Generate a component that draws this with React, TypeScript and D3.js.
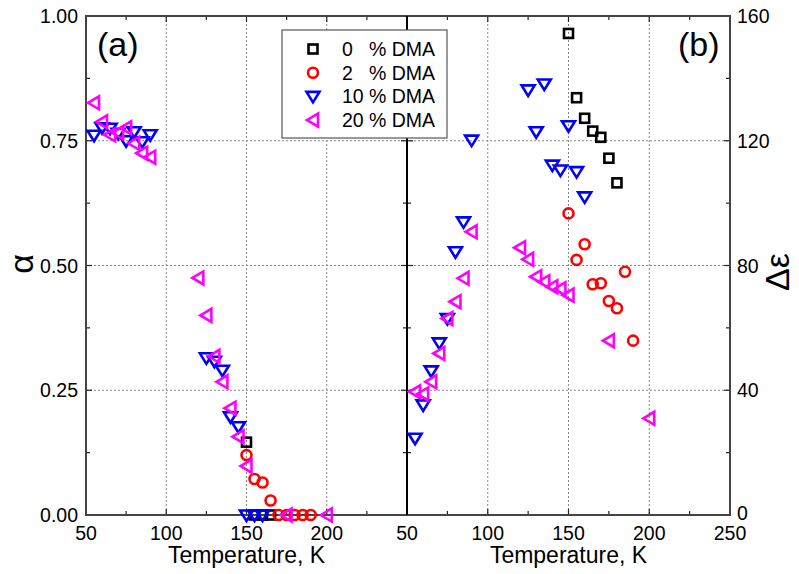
import React from "react";
import * as d3 from "d3";

// ---- data: panel (a), alpha vs T ----
const tA0 = [155, 160, 165, 150];
const a0 = [0, 0, 0, 0.146];
const tA2 = [150, 155, 160, 165, 170, 175, 180, 185, 190];
const a2 = [0.12, 0.072, 0.065, 0.029, 0, 0, 0, 0, 0];
const tA10 = [55, 60, 65, 70, 75, 80, 85, 90, 125, 130, 135, 140, 145, 150, 155, 160];
const a10 = [0.761, 0.776, 0.775, 0.765, 0.75, 0.768, 0.748, 0.762, 0.315, 0.308, 0.29, 0.197, 0.177, 0, 0, 0];
const tA20 = [55, 60, 65, 70, 75, 80, 85, 90, 120, 125, 130, 135, 140, 145, 150, 175, 200];
const a20 = [0.826, 0.788, 0.762, 0.766, 0.776, 0.745, 0.725, 0.717, 0.475, 0.4, 0.318, 0.267, 0.214, 0.157, 0.098, 0, 0];

// ---- data: panel (b), delta epsilon vs T ----
const tB0 = [150, 155, 160, 165, 170, 175, 180];
const e0 = [154.4, 133.8, 127.2, 123.1, 121.1, 114.4, 106.5];
const tB2 = [150, 155, 160, 165, 170, 175, 180, 185, 190];
const e2 = [96.7, 81.8, 86.8, 74, 74.3, 68.6, 66.3, 78, 55.9];
const tB10 = [55, 60, 65, 70, 75, 80, 85, 90, 125, 130, 135, 140, 145, 150, 155, 160];
const e10 = [24.6, 35.3, 46.2, 55.2, 63, 84.4, 94, 120.2, 136.3, 122.9, 138.2, 112.2, 110.6, 124.8, 110.1, 102];
const tB20 = [55, 60, 65, 70, 75, 80, 85, 90, 120, 125, 130, 135, 140, 145, 150, 175, 200];
const e20 = [39.5, 38.8, 42.7, 51.8, 63, 68.4, 75.9, 90.8, 85.7, 82, 76.4, 74.8, 73.2, 72.5, 70.5, 55.9, 31];

const xTicksA = [50, 100, 150, 200];
const xTicksB = [50, 100, 150, 200, 250];
const yTicksA = [0, 0.25, 0.5, 0.75, 1.0];
const yTicksB = [0, 40, 80, 120, 160];
const legendNums = ["0", "2", "10", "20"];
const legendKinds = ["sq", "ci", "dn", "lt"];

const COLORS: Record<string, string> = { sq: "#000000", ci: "#ff0000", dn: "#0000ff", lt: "#ff00ff" };

const L = 86, M = 407, R = 730, T = 16, B = 515;
const xA = d3.scaleLinear().domain([50, 250]).range([L, M]);
const xB = d3.scaleLinear().domain([50, 250]).range([M, R]);
const yA = d3.scaleLinear().domain([0, 1]).range([B, T]);
const yB = d3.scaleLinear().domain([0, 160]).range([B, T]);

const FONT = "Liberation Sans, Arial, sans-serif";

function Marker({ kind, x, y }: { kind: string; x: number; y: number }) {
  const c = COLORS[kind];
  const sw = 2.6;
  if (kind === "sq") return <rect x={x - 4.5} y={y - 4.5} width={9} height={9} fill="none" stroke={c} strokeWidth={sw} />;
  if (kind === "ci") return <circle cx={x} cy={y} r={5} fill="none" stroke={c} strokeWidth={sw} />;
  if (kind === "dn")
    return <path d={`M${x - 6.5},${y - 4.5}L${x + 6.5},${y - 4.5}L${x},${y + 6}Z`} fill="none" stroke={c} strokeWidth={sw} strokeLinejoin="miter" />;
  return <path d={`M${x - 6},${y}L${x + 5},${y - 6.5}L${x + 5},${y + 6.5}Z`} fill="none" stroke={c} strokeWidth={sw} strokeLinejoin="miter" />;
}

function series(kind: string, xs: number[], ys: number[], sx: any, sy: any) {
  return xs.map((t, i) => <Marker key={kind + i} kind={kind} x={sx(t)} y={sy(ys[i])} />);
}

export default function App() {
  const minorX = d3.range(50, 251, 25);
  const minorY = d3.range(0, 1.0001, 0.125);
  const grid = "#888";
  return (
    <svg width={799} height={574} style={{ position: "absolute", left: 0, top: 0, background: "#fff" }} fontFamily={FONT}>
      <rect x={0} y={0} width={799} height={574} fill="#fff" />
      {/* gridlines */}
      <g stroke={grid} strokeWidth={1} strokeDasharray="2,2">
        {[100, 150, 200].map((t) => <line key={"ga" + t} x1={xA(t)} x2={xA(t)} y1={T} y2={B} />)}
        {[100, 150, 200].map((t) => <line key={"gb" + t} x1={xB(t)} x2={xB(t)} y1={T} y2={B} />)}
        {[0.25, 0.5, 0.75].map((v) => <line key={"gy" + v} x1={L} x2={R} y1={yA(v)} y2={yA(v)} />)}
      </g>
      {/* ticks */}
      <g stroke="#222" strokeWidth={1.2}>
        {minorX.map((t, i) => {
          const len = i % 2 === 0 ? 6 : 4;
          return (
            <g key={"tx" + t}>
              <line x1={xA(t)} x2={xA(t)} y1={B} y2={B - len} />
              <line x1={xA(t)} x2={xA(t)} y1={T} y2={T + len} />
              <line x1={xB(t)} x2={xB(t)} y1={B} y2={B - len} />
              <line x1={xB(t)} x2={xB(t)} y1={T} y2={T + len} />
            </g>
          );
        })}
        {minorY.map((v, i) => {
          const len = i % 2 === 0 ? 6 : 4;
          const y = yA(v);
          return (
            <g key={"ty" + i}>
              <line x1={L} x2={L + len} y1={y} y2={y} />
              <line x1={M - len} x2={M + len} y1={y} y2={y} />
              <line x1={R} x2={R - len} y1={y} y2={y} />
            </g>
          );
        })}
      </g>
      {/* frame */}
      <rect x={L} y={T} width={R - L} height={B - T} fill="none" stroke="#444" strokeWidth={2} />
      <line x1={M} x2={M} y1={T} y2={B} stroke="#000" strokeWidth={2} />
      {/* data panel a */}
      {series("sq", tA0, a0, xA, yA)}
      {series("ci", tA2, a2, xA, yA)}
      {series("dn", tA10, a10, xA, yA)}
      {series("lt", tA20, a20, xA, yA)}
      {/* data panel b */}
      {series("sq", tB0, e0, xB, yB)}
      {series("ci", tB2, e2, xB, yB)}
      {series("dn", tB10, e10, xB, yB)}
      {series("lt", tB20, e20, xB, yB)}
      {/* tick labels */}
      <g fontSize={19.5} fill="#000">
        {xTicksA.map((t) => (
          <text key={"la" + t} x={xA(t)} y={540} textAnchor="middle">{t}</text>
        ))}
        {xTicksB.map((t) => (
          <text key={"lb" + t} x={xB(t)} y={540} textAnchor="middle">{t}</text>
        ))}
        {yTicksA.map((v) => (
          <text key={"ly" + v} x={78} y={yA(v) + 7} textAnchor="end">{v.toFixed(2)}</text>
        ))}
        {yTicksB.map((v) => (
          <text key={"ry" + v} x={737} y={yB(v) + (v === 0 ? 5 : 7)} textAnchor="start">{v}</text>
        ))}
      </g>
      <g fontSize={23} fill="#000">
        <text x={(L + M) / 2} y={563} textAnchor="middle">Temperature, K</text>
        <text x={(M + R) / 2} y={563} textAnchor="middle">Temperature, K</text>
      </g>
      {/* axis titles */}
      <text transform="translate(33,264) rotate(-90)" fontSize={34} textAnchor="middle" fill="#000">α</text>
      <text transform="translate(789,272) rotate(-90)" fontSize={34} textAnchor="middle" fill="#000">Δε</text>
      {/* panel labels */}
      <text x={97} y={56} fontSize={34} fill="#000">(a)</text>
      <text x={678} y={56} fontSize={34} fill="#000">(b)</text>
      {/* legend */}
      <rect x={282} y={30} width={165} height={108} fill="#fff" stroke="#555" strokeWidth={1.2} />
      {legendKinds.map((k, i) => {
        const cy = 49 + i * 23.7;
        return (
          <g key={"lg" + k}>
            <Marker kind={k} x={313} y={cy} />
            <text x={342} y={cy + 7} fontSize={19.5} fill="#000">{legendNums[i]}</text>
            <text x={369} y={cy + 7} fontSize={19.5} fill="#000">% DMA</text>
          </g>
        );
      })}
    </svg>
  );
}
